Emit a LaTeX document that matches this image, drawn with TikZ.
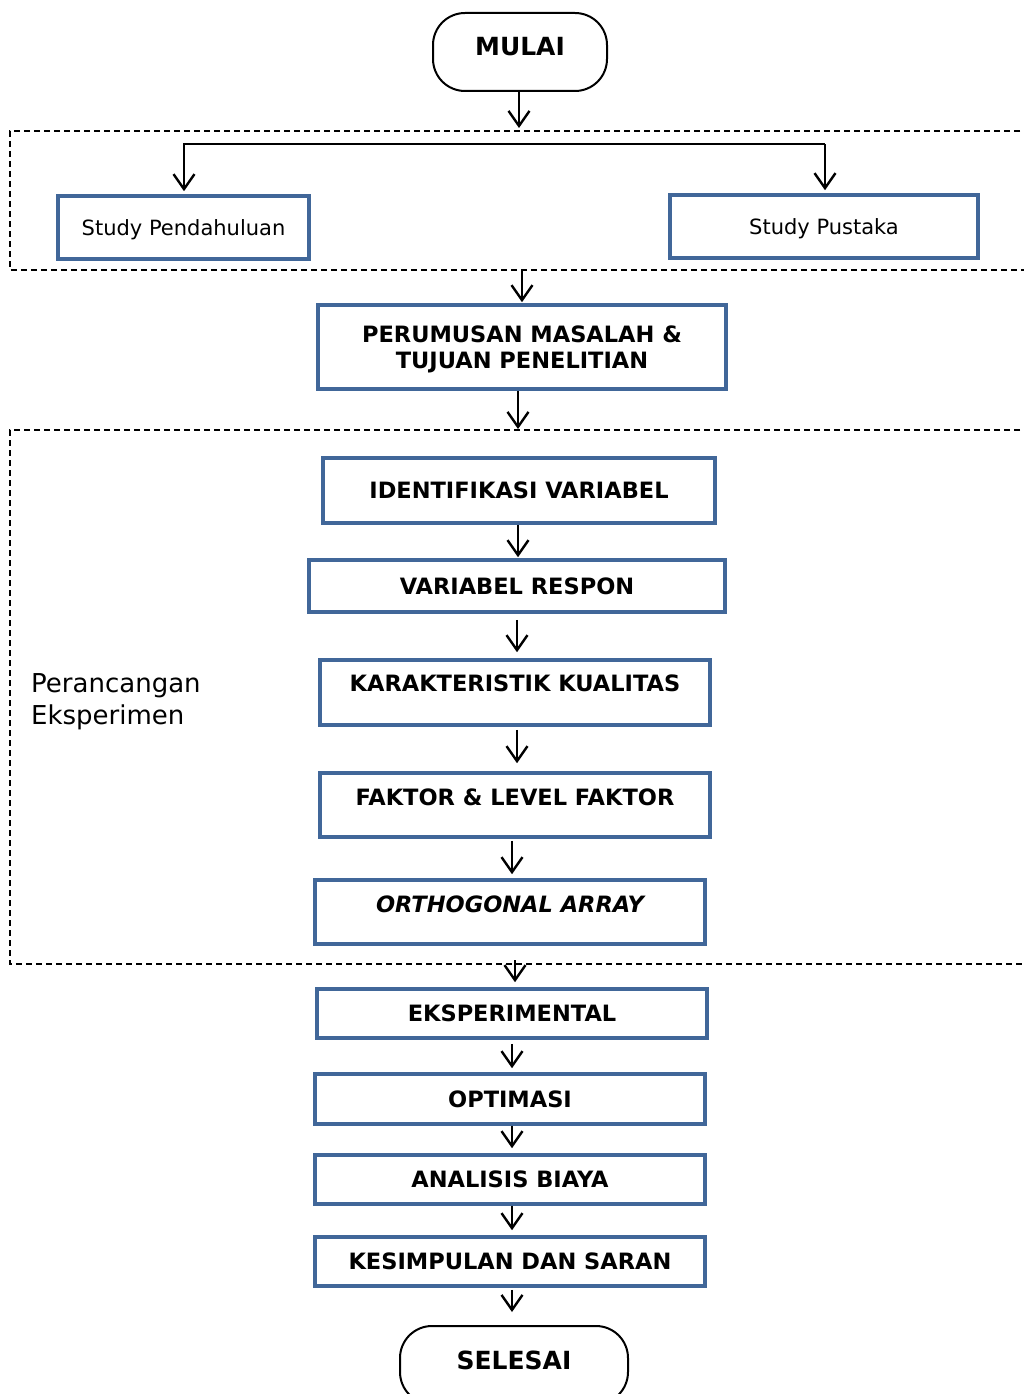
\documentclass[tikz,border=0pt]{standalone}
\usepackage{fontspec}
\setmainfont{DejaVu Sans}
\usetikzlibrary{arrows.meta,calc}
\definecolor{boxblue}{RGB}{65,103,153}
\begin{document}
\begin{tikzpicture}[x=1pt,y=-1pt,
  box/.style={draw=boxblue,line width=3.6pt,fill=white,inner sep=0pt,
    font=\fontsize{22.5}{26}\selectfont\bfseries,text height=16pt,text depth=0pt,align=center},
  soft/.style={box,font=\fontsize{21}{25}\selectfont,text height=15.5pt},
  term/.style={draw=black,line width=2pt,rounded corners=32pt,inner sep=0pt,fill=white},
  ttxt/.style={font=\fontsize{25}{30}\selectfont\bfseries,inner sep=0pt,text height=18pt,text depth=0pt},
  lab/.style={inner sep=0pt,font=\fontsize{22.5}{26}\selectfont\bfseries,text height=16pt,text depth=0pt},
  arr/.style={line width=2.4pt,-{Straight Barb[length=15pt,width=21pt]}},
  zone/.style={line width=1.2pt,dash pattern=on 6pt off 4pt}
]
\useasboundingbox (0,0) rectangle (1023,1394);
\fill[white] (0,0) rectangle (1023,1394);

% dashed zones
\draw[zone] (1030,131) -- (10,131) -- (10,270) -- (1030,270);
\draw[zone] (1030,430) -- (10,430) -- (10,964) -- (1030,964);

% terminals
\node[term,minimum width=174pt,minimum height=78pt] (mulai) at (520,52) {};
\node[ttxt] (mulaitxt) at (520,47) {MULAI};
\node[term,minimum width=228pt,minimum height=78pt] (selesai) at (514,1365) {};
\node[ttxt] (selesaitxt) at (514,1360) {SELESAI};

% boxes
\node[soft,minimum width=251pt,minimum height=63pt] (sp) at (183.5,227.5) {Study Pendahuluan};
\node[soft,minimum width=308pt,minimum height=63pt] (sk) at (824,226.5) {Study Pustaka};
\node[box,minimum width=408pt,minimum height=84pt,text height=42pt] (pm) at (522,347) {PERUMUSAN MASALAH \&\\TUJUAN PENELITIAN};
\node[box,minimum width=392pt,minimum height=65pt] (iv) at (519,490.5) {IDENTIFIKASI VARIABEL};
\node[box,minimum width=416pt,minimum height=52pt] (vr) at (517,586) {VARIABEL RESPON};
\node[box,minimum width=390pt,minimum height=65pt] (kk) at (515,692.5) {};
\node[lab] (kktxt) at (515,683) {KARAKTERISTIK KUALITAS};
\node[box,minimum width=390pt,minimum height=64pt] (fk) at (515,805) {};
\node[lab] (fktxt) at (515,797) {FAKTOR \& LEVEL FAKTOR};
\node[box,minimum width=390pt,minimum height=64pt] (oa) at (510,912) {};
\node[lab] (oatxt) at (510,904) {\itshape ORTHOGONAL ARRAY};
\node[box,minimum width=390pt,minimum height=49pt] (ek) at (512,1013.5) {EKSPERIMENTAL};
\node[box,minimum width=390pt,minimum height=50pt] (op) at (510,1099) {OPTIMASI};
\node[box,minimum width=390pt,minimum height=49pt] (ab) at (510,1179.5) {ANALISIS BIAYA};
\node[box,minimum width=390pt,minimum height=49pt] (ks) at (510,1261.5) {KESIMPULAN DAN SARAN};

% side label
\node[anchor=north west,inner sep=0pt,align=left,
  font=\fontsize{26}{32}\selectfont] (pe) at (31,673) {Perancangan\\Eksperimen};

% connectors
\coordinate (a1) at (519,128);
\draw[arr] (mulai.south -| a1) -- (a1);
\coordinate (hl) at (184,144);
\coordinate (hr) at (825,144);
\draw[arr] (hr) -- (hl) -- ([yshift=3pt]hl |- sp.north);
\draw[arr] (hr) -- ([yshift=3pt]hr |- sk.north);
\coordinate (z1b) at (522,270);
\draw[arr] (z1b) -- ([yshift=1pt]pm.north);
\coordinate (z2t) at (518,429);
\draw[arr] (pm.south -| z2t) -- (z2t);
\draw[arr] (iv.south -| 518,0) -- ([yshift=1pt]518,0 |- vr.north);
\draw[arr] ([yshift=-6pt]vr.south -| 517,0) -- ([yshift=6pt]517,0 |- kk.north);
\draw[arr] ([yshift=-3pt]kk.south -| 517,0) -- ([yshift=8pt]517,0 |- fk.north);
\draw[arr] ([yshift=-2pt]fk.south -| 512,0) -- ([yshift=4pt]512,0 |- oa.north);
\coordinate (z2b) at (515,960);
\draw[arr] (z2b) -- ([yshift=5pt]z2b |- ek.north);
\draw[arr] ([yshift=-4pt]ek.south -| 512,0) -- ([yshift=4pt]512,0 |- op.north);
\draw[arr] (op.south -| 512,0) -- ([yshift=5pt]512,0 |- ab.north);
\draw[arr] (ab.south -| 512,0) -- ([yshift=5pt]512,0 |- ks.north);
\draw[arr] ([yshift=-2pt]ks.south -| 512,0) -- ([yshift=13pt]512,0 |- selesai.north);
\end{tikzpicture}
\end{document}
